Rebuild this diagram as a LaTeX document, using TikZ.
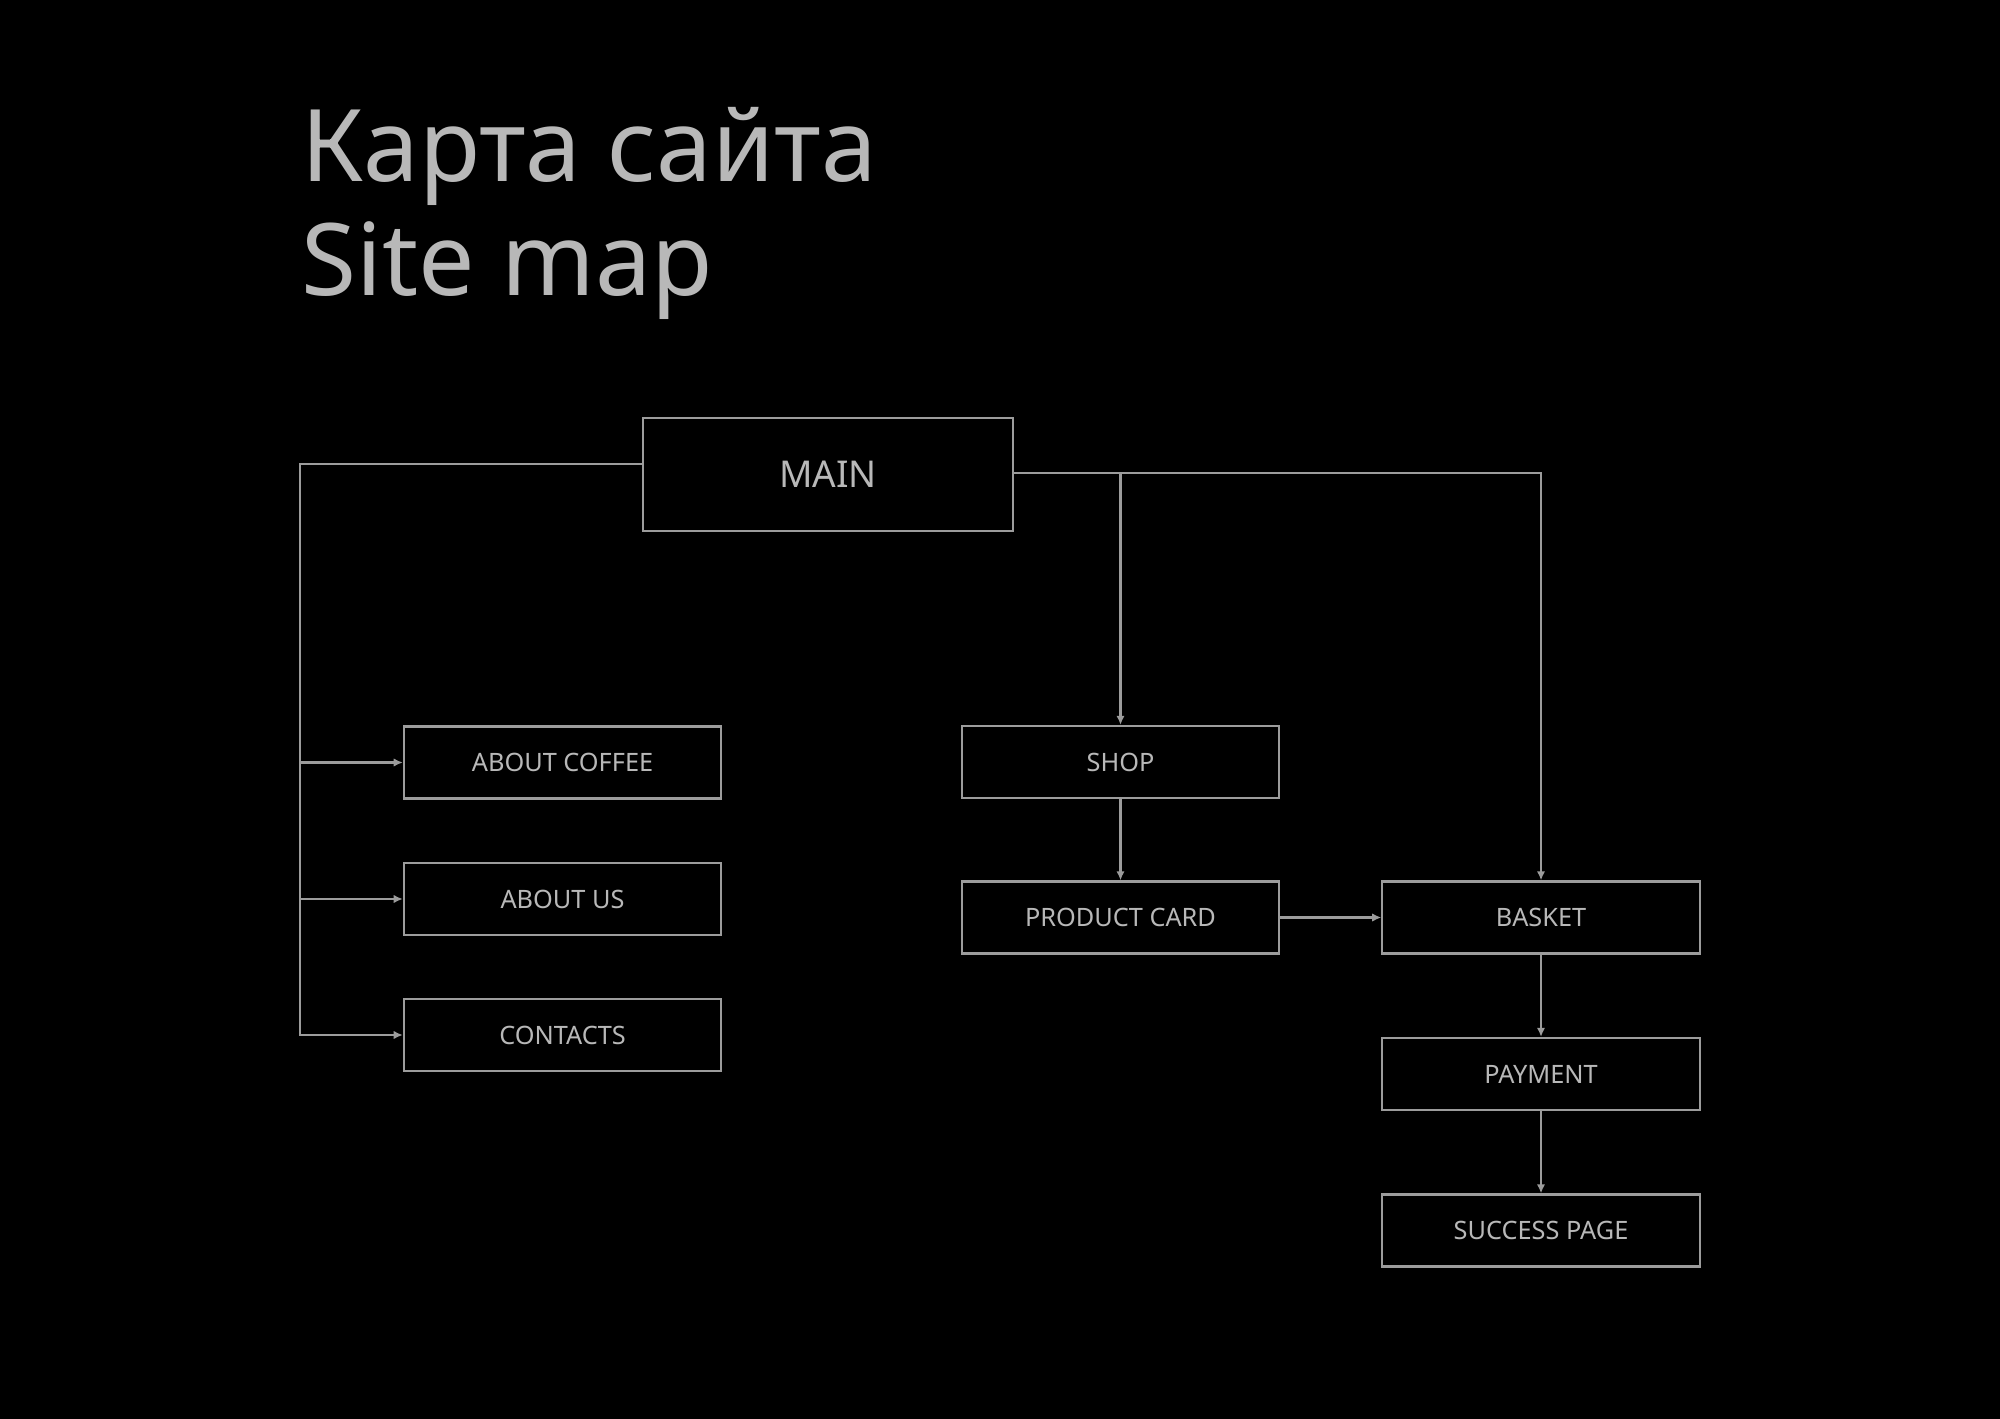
\documentclass[tikz,border=0pt]{standalone}
\usepackage{fontspec}
\setmainfont{Noto Sans}
\usepackage{tikz}
\usetikzlibrary{positioning, arrows.meta}
\definecolor{bgc}{HTML}{000000}
\definecolor{linec}{HTML}{9C9C9C}
\definecolor{textc}{HTML}{B8B8B8}
\tikzset{
  page/.style={x=0.01cm, y=-0.01cm},
  box/.style={draw=linec, line width=0.6pt, text=textc, minimum width=3.17cm,
    minimum height=0.72cm, inner sep=0pt, font=\fontsize{7.2}{8}\selectfont},
  link/.style={draw=linec, line width=0.6pt},
  arr/.style={link, -{Latex[length=2.6pt, width=2.4pt]}},
}

\begin{document}
\begin{tikzpicture}[page]
  \fill[bgc] (0,0) rectangle (2000,1419);
  \useasboundingbox (0,0) rectangle (2000,1419);

  % title
  \node [anchor=base west, inner sep=0pt, text=textc, font=\fontsize{28.5}{32}\selectfont] (ru) at (301,182) {Карта сайта};
  \node [anchor=base west, inner sep=0pt, text=textc, font=\fontsize{28.5}{32}\selectfont] (en) at (301,296) {Site map};

  % boxes
  \node [box, minimum width=3.7cm, minimum height=1.13cm, font=\fontsize{10.5}{12}\selectfont] (main) at (828,474.5) {MAIN};
  \node [box] (coffee) at (562.5,762.5) {ABOUT COFFEE};
  \node [box] (about) at (562.5,899) {ABOUT US};
  \node [box] (contacts) at (562.5,1035) {CONTACTS};
  \node [box] (shop) at (1120.5,762) {SHOP};
  \node [box] (card) at (1120.5,917.5) {PRODUCT CARD};
  \node [box] (basket) at (1541,917.5) {BASKET};
  \node [box] (payment) at (1541,1074) {PAYMENT};
  \node [box] (success) at (1541,1230.5) {SUCCESS PAGE};

  \coordinate (lt) at (300,464);
  \coordinate (rt) at (1541,473);

  % left branch
  \draw[arr] (main.west |- lt) -- (lt) |- (contacts.west);
  \draw[arr] (lt |- coffee) -- (coffee);
  \draw[arr] (lt |- about) -- (about);

  % right branch
  \draw[arr] (main.east |- rt) -- (rt) -- (basket);
  \draw[arr] (shop |- rt) -- (shop);
  \draw[arr] (shop) -- (card);
  \draw[arr] (card) -- (basket);
  \draw[arr] (basket) -- (payment);
  \draw[arr] (payment) -- (success);
\end{tikzpicture}
\end{document}
